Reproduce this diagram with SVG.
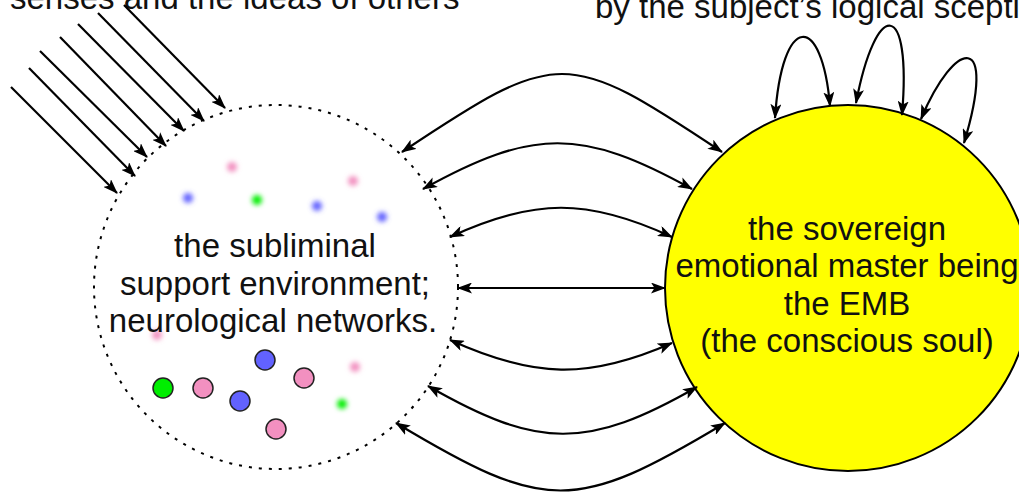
<svg xmlns="http://www.w3.org/2000/svg" width="1019" height="494" viewBox="0 0 1019 494">
<style>
.t{font-family:"Liberation Sans",Arial,sans-serif;font-size:33px;fill:#111}
.m{text-anchor:middle}
.c{fill:none;stroke:#000;stroke-width:2.2}
.dot{stroke:#222;stroke-width:1.5}
.b{fill:#6262ff}.p{fill:#f290c0}.g{fill:#00ee00}
.bl{filter:url(#blur)}
</style>
<defs>
<marker id="ah" viewBox="0 0 15 11" refX="14" refY="5.5" markerWidth="15" markerHeight="11" markerUnits="userSpaceOnUse" orient="auto-start-reverse">
<path d="M0,0 L15,5.5 L0,11 L3.5,5.5 Z" fill="#000"/>
</marker>
<filter id="blur" x="-2" y="-2" width="5" height="5"><feGaussianBlur stdDeviation="2.6"/></filter>
</defs>
<g id="label-senses"><text class="t" x="10" y="9">senses and the ideas of others</text></g>
<g id="label-scepticism"><text class="t" x="595" y="18">by the subject’s logical scepti</text></g>
<g id="subliminal">
<circle cx="276" cy="287" r="182" fill="none" stroke="#000" stroke-width="2" stroke-dasharray="3 7"/>
<g class="bl">
<circle class="p" cx="232" cy="167" r="5"/>
<circle class="p" cx="353" cy="181" r="5"/>
<circle class="b" cx="188" cy="198" r="5"/>
<circle class="g" cx="257" cy="200" r="5"/>
<circle class="b" cx="317" cy="206" r="5"/>
<circle class="b" cx="382" cy="217" r="5"/>
<circle class="p" cx="157" cy="335" r="5"/>
<circle class="p" cx="355" cy="367" r="5"/>
<circle class="g" cx="342" cy="404" r="5"/>
</g>
<circle class="dot b" cx="265" cy="360" r="10"/>
<circle class="dot p" cx="304" cy="378" r="10"/>
<circle class="dot g" cx="163" cy="388" r="10"/>
<circle class="dot p" cx="203" cy="388" r="10"/>
<circle class="dot b" cx="240" cy="401" r="10"/>
<circle class="dot p" cx="276" cy="429" r="10"/>
<text class="t m" x="275" y="257">the subliminal</text>
<text class="t m" x="275" y="295">support environment;</text>
<text class="t m" x="273" y="332">neurological networks.</text>
</g>
<g id="emb">
<circle cx="848" cy="288" r="183" fill="#ffff00" stroke="#000" stroke-width="2"/>
<text class="t m" x="847" y="240">the sovereign</text>
<text class="t m" x="847" y="277">emotional master being</text>
<text class="t m" x="847" y="315">the EMB</text>
<text class="t m" x="847" y="352">(the conscious soul)</text>
</g>
<g id="connectors">
<g marker-end="url(#ah)">
<path class="c" d="M11,87 L117,193"/>
<path class="c" d="M29,68 L135,176"/>
<path class="c" d="M40,51 L147,157"/>
<path class="c" d="M60,37 L166,146"/>
<path class="c" d="M78,24 L184,131"/>
<path class="c" d="M98,13 L204,121"/>
<path class="c" d="M124,5 L225,108"/>
</g>
<g marker-start="url(#ah)" marker-end="url(#ah)">
<path class="c" d="M402,152 C558,48 566,48 722,152"/>
<path class="c" d="M423,189 C533,128 582,128 692,189"/>
<path class="c" d="M450,237 C534,198 588,198 672,237"/>
<path class="c" d="M458,288 L665,288"/>
<path class="c" d="M450,340 C534,378 588,380 672,343"/>
<path class="c" d="M428,386 C538,449 587,450 697,387"/>
<path class="c" d="M396,423 C546,513 575,513 725,423"/>
<path class="c" d="M775,118 C782,12 822,12 830,106"/>
<path class="c" d="M856,103 C876,-2 912,-2 902,115"/>
<path class="c" d="M921,119 C955,38 998,30 964,143"/>
</g>
</g>
</svg>
